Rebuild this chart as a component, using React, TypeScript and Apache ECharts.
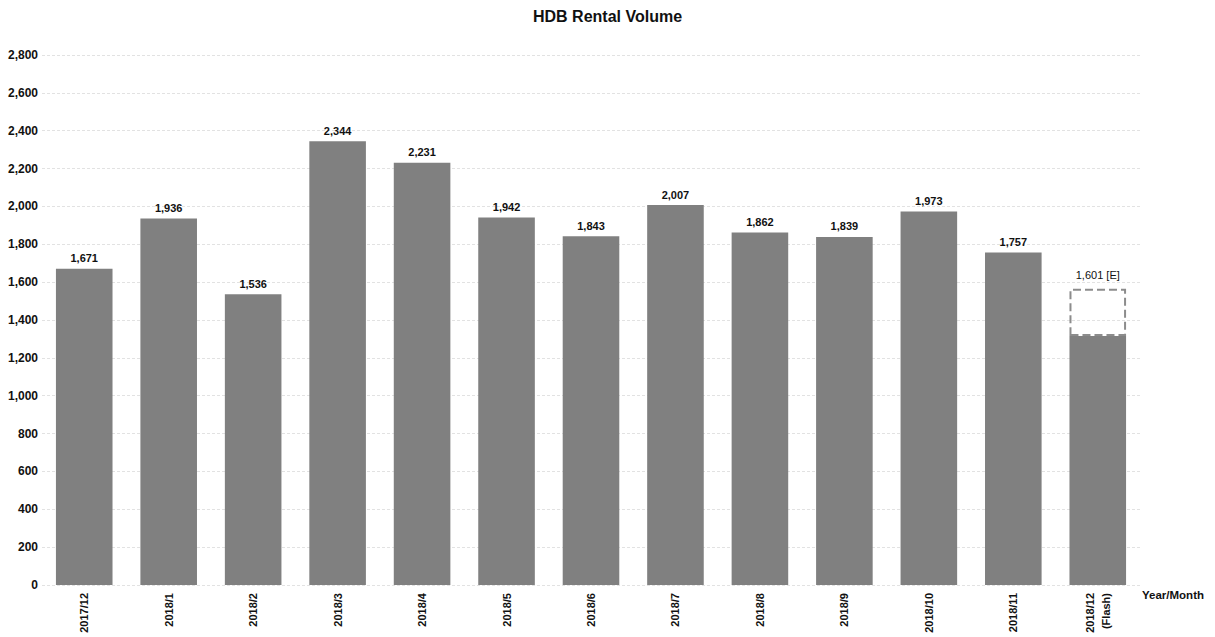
import React, { useEffect, useRef } from "react";
import * as echarts from "echarts";

const categories = ["2017/12", "2018/1", "2018/2", "2018/3", "2018/4", "2018/5", "2018/6", "2018/7", "2018/8", "2018/9", "2018/10", "2018/11", "2018/12\n(Flash)"];
const volumes = [1671, 1936, 1536, 2344, 2231, 1942, 1843, 2007, 1862, 1839, 1973, 1757, 1315];
const estimateRange = ["-", "-", "-", "-", "-", "-", "-", "-", "-", "-", "-", "-", 250];
const estimateLabel = "1,601 [E]";
const yTicks = { min: 0, max: 2800, interval: 200 };

export default function App() {
  const ref = useRef<HTMLDivElement>(null);
  useEffect(() => {
    if (!ref.current) return;
    const chart = echarts.init(ref.current, null, { renderer: "svg" });
    const font = "Liberation Sans, Arial, sans-serif";
    chart.setOption({
      animation: false,
      textStyle: { fontFamily: font },
      title: {
        text: "HDB Rental Volume",
        left: "center",
        top: 3,
        textStyle: { fontSize: 16, fontWeight: "bold", color: "#111", fontFamily: font },
      },
      grid: { left: 42, right: 75, top: 55, bottom: 52, containLabel: false },
      xAxis: {
        type: "category",
        data: categories,
        name: "Year/Month",
        nameLocation: "end",
        nameGap: 2,
        nameTextStyle: { fontSize: 11.5, fontWeight: "bold", color: "#111", verticalAlign: "top", padding: [4, 0, 0, 0] },
        axisLine: { show: false },
        axisTick: { show: false },
        axisLabel: { rotate: 90, fontSize: 11, fontWeight: "bold", color: "#111", margin: 8, interval: 0, lineHeight: 16 },
      },
      yAxis: {
        type: "value",
        min: yTicks.min,
        max: yTicks.max,
        interval: yTicks.interval,
        axisLine: { show: false },
        axisTick: { show: false },
        axisLabel: {
          fontSize: 12,
          fontWeight: "bold",
          color: "#111",
          margin: 4,
          formatter: (v: number) => v.toLocaleString("en-US"),
        },
        splitLine: { lineStyle: { type: [3, 2], color: "#e2e2e2", width: 1 } },
      },
      series: [
        {
          type: "bar",
          stack: "a",
          data: volumes,
          barCategoryGap: "33%",
          itemStyle: { color: "#808080" },
          label: {
            show: true,
            position: "top",
            fontSize: 11,
            fontWeight: "bold",
            color: "#111",
            formatter: (p: any) => (p.dataIndex === volumes.length - 1 ? "" : Number(p.value).toLocaleString("en-US")),
          },
        },
        {
          type: "bar",
          stack: "a",
          data: estimateRange,
          itemStyle: { color: "rgba(255,255,255,0)", borderColor: "#8c8c8c", borderWidth: 2, borderType: "dashed" },
          label: { show: true, position: "top", fontSize: 11, color: "#111", distance: 8, formatter: () => estimateLabel },
        },
      ],
    });
    return () => chart.dispose();
  }, []);
  return <div ref={ref} style={{ position: "fixed", left: 0, top: 0, width: 1215, height: 637, background: "#fff" }} />;
}
